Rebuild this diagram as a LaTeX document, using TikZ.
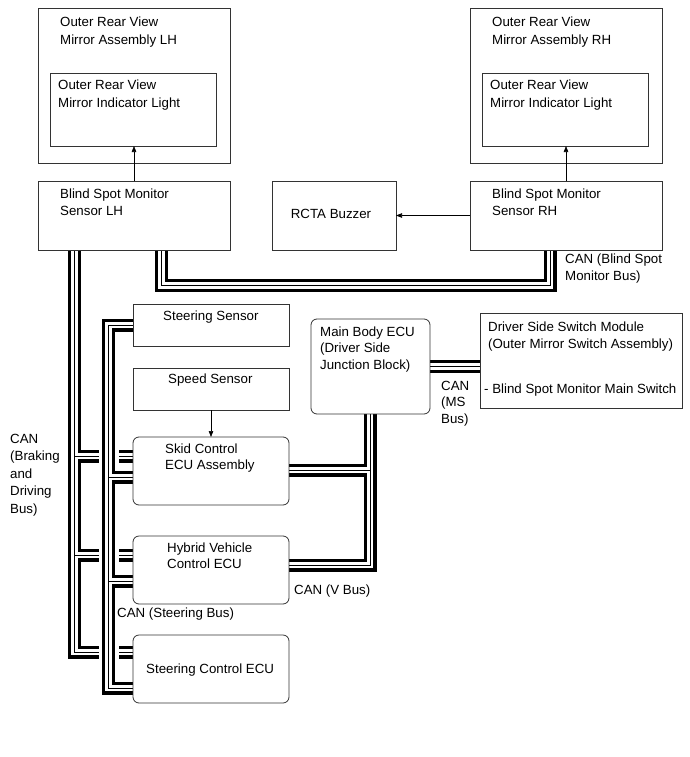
\documentclass[tikz,border=0pt]{standalone}
\usepackage{fontspec}
\setmainfont{Liberation Sans}
\usetikzlibrary{arrows.meta}
\pgfdeclarelayer{bg}
\pgfsetlayers{bg,main}
\begin{document}
\begin{tikzpicture}[x=1pt,y=-1pt,
  box/.style={draw=black!80, line width=0.8pt, outer sep=0pt, inner sep=0pt, anchor=north west},
  rbox/.style={box, rounded corners=6pt},
  lbl/.style={anchor=base west, inner sep=0pt, font=\fontsize{13.3}{15}\selectfont},
  arr/.style={draw=black, line width=0.6pt, -{Triangle[length=6pt,width=4.5pt]}},
  busA/.style={draw=black, line width=13pt},
  busB/.style={draw=white, line width=6.5pt},
  busC/.style={draw=black, line width=1pt},
  busgap/.style={draw=white, line width=20pt}
]
\useasboundingbox (0,0) rectangle (690,757);

% ---------- boxes ----------
\node[box, minimum width=192pt, minimum height=155pt] (lhmir) at (38,8) {};
\node[box, minimum width=166pt, minimum height=73pt] (lhind) at (50,73) {};
\node[box, minimum width=192pt, minimum height=69pt] (lhs) at (38,181) {};
\node[box, minimum width=192pt, minimum height=155pt] (rhmir) at (470,8) {};
\node[box, minimum width=166pt, minimum height=73pt] (rhind) at (482,73) {};
\node[box, minimum width=192pt, minimum height=69pt] (rhs) at (470,181) {};
\node[box, minimum width=124pt, minimum height=69pt] (buzz) at (272,181) {};
\node[box, minimum width=156pt, minimum height=42pt] (stsen) at (133,304) {};
\node[box, minimum width=156pt, minimum height=42pt] (spsen) at (133,368) {};
\node[rbox, minimum width=156pt, minimum height=68pt] (skid) at (133,437) {};
\node[rbox, minimum width=156pt, minimum height=68pt] (hv) at (133,536) {};
\node[rbox, minimum width=156pt, minimum height=68pt] (sce) at (133,635) {};
\node[rbox, minimum width=119pt, minimum height=95pt] (mb) at (311,319) {};
\node[box, minimum width=202pt, minimum height=95pt] (dss) at (480,313) {};

% ---------- texts ----------
\node[lbl] (t1) at (60,27) {Outer Rear View};
\node[lbl] (t2) at (60,44.5) {Mirror Assembly LH};
\node[lbl] (t3) at (58,90) {Outer Rear View};
\node[lbl] (t4) at (58,107.5) {Mirror Indicator Light};
\node[lbl] (t5) at (60,198) {Blind Spot Monitor};
\node[lbl] (t6) at (60,215.5) {Sensor LH};
\node[lbl] (t7) at (492,27) {Outer Rear View};
\node[lbl] (t8) at (492,44.5) {Mirror Assembly RH};
\node[lbl] (t9) at (490,90) {Outer Rear View};
\node[lbl] (t10) at (490,107.5) {Mirror Indicator Light};
\node[lbl] (t11) at (492,198) {Blind Spot Monitor};
\node[lbl] (t12) at (492,215.5) {Sensor RH};
\node[lbl, anchor=base] (t13) at (331,218.5) {RCTA Buzzer};
\node[lbl] (t14) at (565,263) {CAN (Blind Spot};
\node[lbl] (t15) at (565,280.5) {Monitor Bus)};
\node[lbl] (t16) at (163,320) {Steering Sensor};
\node[lbl] (t17) at (168,383.5) {Speed Sensor};
\node[lbl] (t18) at (320,336) {Main Body ECU};
\node[lbl] (t19) at (320,352.5) {(Driver Side};
\node[lbl] (t20) at (320,369) {Junction Block)};
\node[lbl] (t21) at (488,331.5) {Driver Side Switch Module};
\node[lbl] (t22) at (488,348) {(Outer Mirror Switch Assembly)};
\node[lbl] (t23) at (484,393) {- Blind Spot Monitor Main Switch};
\node[lbl] (t24) at (441,390) {CAN};
\node[lbl] (t25) at (441,406.5) {(MS};
\node[lbl] (t26) at (441,423) {Bus)};
\node[lbl] (t27) at (165,453) {Skid Control};
\node[lbl] (t28) at (165,469) {ECU Assembly};
\node[lbl] (t29) at (167,552) {Hybrid Vehicle};
\node[lbl] (t30) at (167,568) {Control ECU};
\node[lbl] (t31) at (146,673.5) {Steering Control ECU};
\node[lbl] (t32) at (117,617.5) {CAN (Steering Bus)};
\node[lbl] (t33) at (294,594) {CAN (V Bus)};
\node[lbl] (t34) at (10,443) {CAN};
\node[lbl] (t35) at (10,460.5) {(Braking};
\node[lbl] (t36) at (10,478) {and};
\node[lbl] (t37) at (10,495.5) {Driving};
\node[lbl] (t38) at (10,513) {Bus)};

% ---------- arrows ----------
\draw[arr] (lhs.north) -- (lhs.north |- lhind.south);
\draw[arr] (rhs.north) -- (rhs.north |- rhind.south);
\draw[arr] (rhs.west) -- (buzz.east);
\draw[arr] (spsen.south) -- (skid.north);

% ---------- CAN buses ----------
\coordinate (bk1) at (74.5,456);
\coordinate (bk2) at (74.5,555);
\coordinate (bk3) at (74.5,652);
\coordinate (st0) at (108.5,325);
\coordinate (st1) at (108.5,477);
\coordinate (st2) at (108.5,581);
\coordinate (st3) at (108.5,688);
\coordinate (bs1) at (161.5,285.5);
\coordinate (bs2) at (550,285.5);
\coordinate (v1) at (370,470);
\coordinate (v2) at (370,565);
\coordinate (ms) at (0,366.5);

\def\brkbus{(lhs.south -| bk3) -- (bk3) -- (bk3 -| sce.west)
  (bk1) -- (bk1 -| skid.west) (bk2) -- (bk2 -| hv.west)}
\def\stbus{(st0 -| stsen.west) -- (st0) -- (st3) -- (st3 -| sce.west)
  (st1) -- (st1 -| skid.west) (st2) -- (st2 -| hv.west)}
\def\bsmbus{(lhs.south -| bs1) -- (bs1) -- (bs2) -- (rhs.south -| bs2)}
\def\vbus{(mb.south -| v2) -- (v2) -- (v2 -| hv.east) (v1) -- (v1 -| skid.east)}
\def\msbus{(ms -| mb.east) -- (ms -| dss.west)}

\begin{pgfonlayer}{bg}
\draw[busA] \brkbus; \draw[busB] \brkbus; \draw[busC] \brkbus;
\draw[busgap] \stbus;
\draw[busA] \stbus; \draw[busB] \stbus; \draw[busC] \stbus;
\draw[busA] \bsmbus; \draw[busB] \bsmbus; \draw[busC] \bsmbus;
\draw[busA] \vbus; \draw[busB] \vbus; \draw[busC] \vbus;
\draw[busA] \msbus; \draw[busB] \msbus; \draw[busC] \msbus;
\end{pgfonlayer}
\end{tikzpicture}
\end{document}
